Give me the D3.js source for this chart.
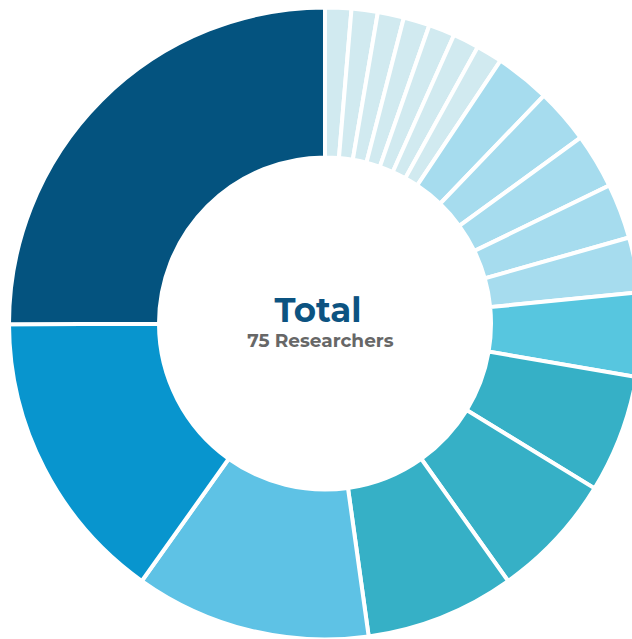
<!DOCTYPE html>
<html>
<head>
<meta charset="utf-8">
<script src="https://cdn.jsdelivr.net/npm/d3@7"></script>
<style>
  html, body { margin: 0; padding: 0; background: #fff; overflow: hidden; }
</style>
</head>
<body>
<svg width="632" height="639"></svg>
<script>
// slices, clockwise from 12 o'clock
const slices = ['S1', 'S2', 'S3', 'S4', 'S5', 'S6', 'S7',
                'S8', 'S9', 'S10', 'S11', 'S12',
                'S13', 'S14', 'S15', 'S16', 'S17', 'S18', 'S19'];
const researchers = [1, 1, 1, 1, 1, 1, 1,
                     2.1, 2.1, 2.1, 2.1, 2.1,
                     3.2, 4.5, 4.8, 5.7, 9.0, 11.3, 18.7];
const tiers = ['t1', 't1', 't1', 't1', 't1', 't1', 't1',
               't2', 't2', 't2', 't2', 't2',
               't3', 't4', 't4', 't4', 't5', 't6', 't7'];
const centerTitle = 'Total';
const centerLabel = '75 Researchers';

const svg = d3.select('svg');
const cx = 325, cy = 323.5;

const color = d3.scaleOrdinal()
    .domain(['t1', 't2', 't3', 't4', 't5', 't6', 't7'])
    .range(['#d1eaf0', '#a6dcee', '#57c6df', '#36b0c6', '#5ec2e5', '#0895ce', '#04537f']);

const data = slices.map((s, i) => ({ name: s, value: researchers[i], tier: tiers[i] }));

const pie = d3.pie().sort(null).value(d => d.value);
const arc = d3.arc().innerRadius(166).outerRadius(316);

const g = svg.append('g').attr('transform', `translate(${cx}, ${cy})`);

g.selectAll('path')
    .data(pie(data))
    .join('path')
    .attr('d', arc)
    .attr('fill', d => color(d.data.tier))
    .attr('stroke', '#fff')
    .attr('stroke-width', 4)
    .attr('stroke-linejoin', 'miter');

// center text
svg.append('text')
    .attr('x', 318)
    .attr('y', 322)
    .attr('text-anchor', 'middle')
    .style('font-family', "Montserrat, 'Open Sans', sans-serif")
    .style('font-weight', 'bold')
    .style('font-size', '34px')
    .attr('fill', '#0c5381')
    .text(centerTitle);

svg.append('text')
    .attr('x', 320.5)
    .attr('y', 346.5)
    .attr('text-anchor', 'middle')
    .style('font-family', "Montserrat, 'Open Sans', sans-serif")
    .style('font-weight', 'bold')
    .style('font-size', '18.5px')
    .attr('fill', '#676767')
    .text(centerLabel);
</script>
</body>
</html>
